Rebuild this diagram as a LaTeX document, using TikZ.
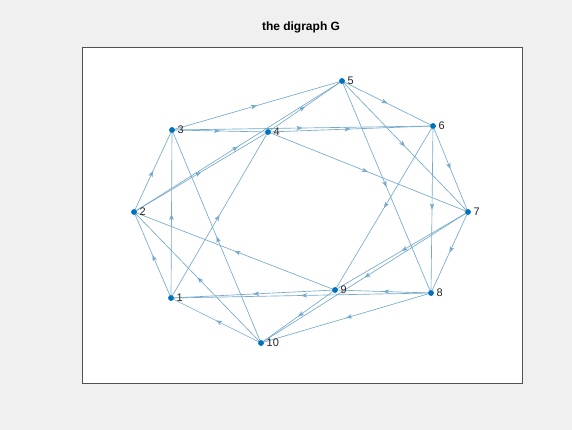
\documentclass[tikz,border=0pt]{standalone}
\usepackage{fontspec}
\setmainfont{Liberation Sans}
\usetikzlibrary{decorations.markings,arrows.meta}
\definecolor{edgec}{RGB}{118,170,204}
\definecolor{nodec}{RGB}{0,114,189}
\definecolor{bgc}{RGB}{240,240,240}
\definecolor{axc}{RGB}{38,38,38}
\begin{document}
\begin{tikzpicture}[x=1pt,y=-1pt,
  vert/.style={circle,fill=nodec,inner sep=0pt,minimum size=5.5pt},
  lab/.style={font=\fontsize{11}{12}\selectfont,text=axc,anchor=west,inner sep=0pt},
  edge/.style={draw=edgec,line width=0.65pt,postaction={decorate},
    decoration={markings,mark=at position 0.5 with {\arrow{Stealth[length=6pt,width=4.5pt,inset=1.5pt]}}}}]
\useasboundingbox (0,0) rectangle (572,430);
\fill[bgc] (0,0) rectangle (572,430);
\filldraw[fill=white,draw=axc!80,line width=0.6pt] (82,47) rectangle (522,383);
\node[font=\bfseries\fontsize{12}{13}\selectfont,text=black] (title) at (301,27) {the digraph G};
% vertices
\node[vert] (v1) at (171,298) {};
\node[vert] (v2) at (134,212) {};
\node[vert] (v3) at (172,130) {};
\node[vert] (v4) at (268,132) {};
\node[vert] (v5) at (342,81) {};
\node[vert] (v6) at (433,126) {};
\node[vert] (v7) at (468,212) {};
\node[vert] (v8) at (431,293) {};
\node[vert] (v9) at (335,290) {};
\node[vert] (v10) at (261,343) {};
% edges
\foreach \a/\b in {1/2,1/3,1/4,2/3,2/4,2/5,3/4,3/5,3/6,4/5,4/6,4/7,5/6,5/7,5/8,6/7,6/8,6/9,7/8,7/9,7/10,8/9,8/10,8/1,9/10,9/1,9/2,10/1,10/2,10/3}
  \draw[edge] (v\a.center) -- (v\b.center);
% redraw vertices on top
\foreach \i in {1,...,10} \fill[nodec] (v\i) circle (2.75pt);
% labels
\foreach \i in {1,...,10}
  \node[lab] (l\i) at ([xshift=5.5pt]v\i.center) {\i};
\end{tikzpicture}
\end{document}
